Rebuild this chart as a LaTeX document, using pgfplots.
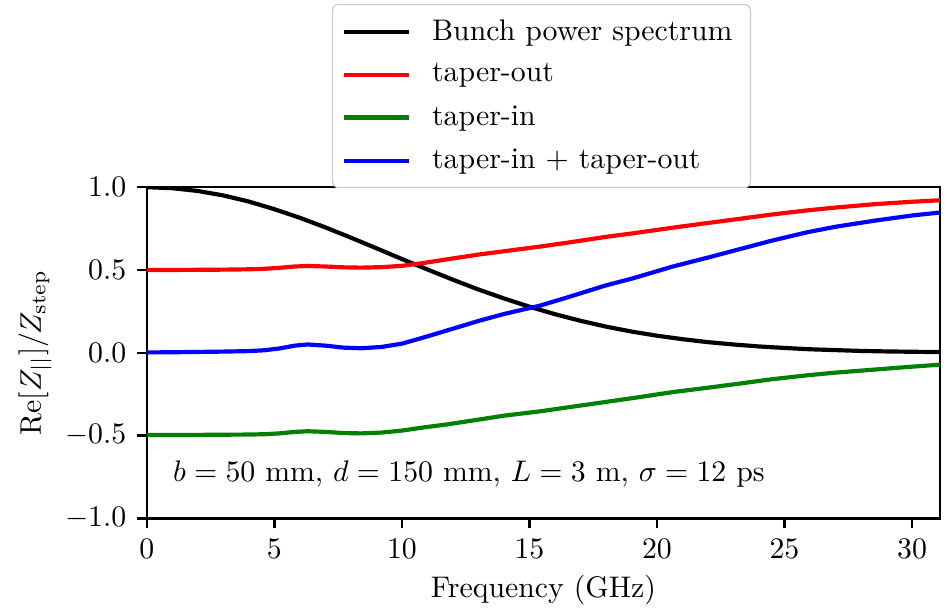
\documentclass[border=0pt]{standalone}
\usepackage{pgfplots}
\pgfplotsset{compat=1.18}
\definecolor{mplgreen}{rgb}{0,0.5,0}
\begin{document}
\begin{tikzpicture}
\begin{axis}[
  name=ax,
  scale only axis,
  width=266.1pt, height=111.1pt,
  xmin=0, xmax=31.1, ymin=-1, ymax=1,
  xtick={0,5,10,15,20,25,30},
  ytick={-1,-0.5,0,0.5,1},
  yticklabel style={/pgf/number format/.cd, fixed, fixed zerofill, precision=1},
  tick align=outside, tick pos=left,
  major tick length=3.4pt,
  axis line style={line width=0.8pt},
  every tick/.style={black, line width=0.8pt},
  xlabel={Frequency (GHz)},
  ylabel={$\mathrm{Re}[Z_{||}]/Z_{\mathrm{step}}$},
  xlabel style={at={(axis description cs:0.5,-0.2175)}, anchor=center},
  ylabel style={at={(axis description cs:-0.141,0.5)}, anchor=center},
  legend cell align=left,
  legend image code/.code={\draw[#1] (0pt,0pt) -- (22pt,0pt);},
  legend style={at={(0.4975,0.997)}, anchor=south, draw=black!20, fill=white,
    rounded corners=2pt, row sep=2.4pt, inner xsep=3pt, inner ysep=3pt,
    /tikz/every odd column/.append style={column sep=4pt},
    nodes={inner xsep=3pt}},
]
\addplot[black, line width=1.4pt] coordinates {
(0,1.000) (1,0.994) (2,0.977) (3,0.950) (4,0.913) (5,0.867) (6,0.815) (7,0.757)
(8,0.695) (9,0.631) (10,0.566) (11,0.503) (12,0.441) (13,0.382) (14,0.328)
(15,0.278) (16,0.233) (17,0.193) (18,0.158) (19,0.128) (20,0.103) (21,0.082)
(22,0.064) (23,0.050) (24,0.038) (25,0.029) (26,0.021) (27,0.016) (28,0.011)
(29,0.008) (30,0.006) (31.1,0.004)
};
\addlegendentry{Bunch power spectrum}
\addplot[red, line width=1.4pt] coordinates {
(0,0.500) (1,0.500) (2,0.501) (3,0.502) (4,0.504) (4.6,0.507) (5.2,0.513)
(5.8,0.521) (6.3,0.524) (7,0.521) (7.7,0.516) (8.4,0.514) (9.2,0.517)
(10,0.525) (10.8,0.541) (11.8,0.565) (13,0.593) (14,0.613) (15.4,0.641)
(16.5,0.665) (18,0.700) (19,0.720) (20.6,0.755) (22,0.784) (23.25,0.809)
(24.5,0.835) (25.9,0.860) (27,0.877) (28.5,0.897) (30,0.912) (31.1,0.921)
};
\addlegendentry{taper-out}
\addplot[mplgreen, line width=1.4pt] coordinates {
(0,-0.497) (1,-0.497) (2,-0.496) (3,-0.495) (4,-0.494) (4.6,-0.492) (5.2,-0.487)
(5.8,-0.478) (6.3,-0.474) (7,-0.478) (7.7,-0.485) (8.4,-0.487) (9.2,-0.482)
(10,-0.470) (10.8,-0.452) (11.8,-0.432) (13,-0.404) (14,-0.380) (15.4,-0.354)
(16.5,-0.330) (18,-0.297) (19,-0.275) (20.6,-0.238) (22,-0.211) (23.25,-0.186)
(24.5,-0.160) (25.9,-0.136) (27,-0.120) (28.5,-0.102) (30,-0.084) (31.1,-0.072)
};
\addlegendentry{taper-in}
\addplot[blue, line width=1.4pt] coordinates {
(0,0.002) (1,0.003) (2,0.005) (3,0.007) (4,0.010) (4.6,0.015) (5.2,0.026)
(5.8,0.043) (6.3,0.050) (7,0.043) (7.7,0.031) (8.4,0.027) (9.2,0.035)
(10,0.055) (10.8,0.090) (11.8,0.136) (13,0.192) (14,0.234) (15.4,0.284)
(16.5,0.335) (18,0.407) (19,0.447) (20.6,0.520) (22,0.575) (23.25,0.626)
(24.5,0.677) (25.9,0.728) (27,0.761) (28.5,0.797) (30,0.829) (31.1,0.847)
};
\addlegendentry{taper-in + taper-out}
\node[anchor=base west, inner sep=0pt] at (axis cs:1,-0.775)
  {$b=50$ mm, $d=150$ mm, $L=3$ m, $\sigma=12$ ps};
\end{axis}
\path ([xshift=-49.3pt,yshift=-29.5pt]ax.south west) rectangle ([xshift=2pt,yshift=62.8pt]ax.north east);
\end{tikzpicture}
\end{document}
